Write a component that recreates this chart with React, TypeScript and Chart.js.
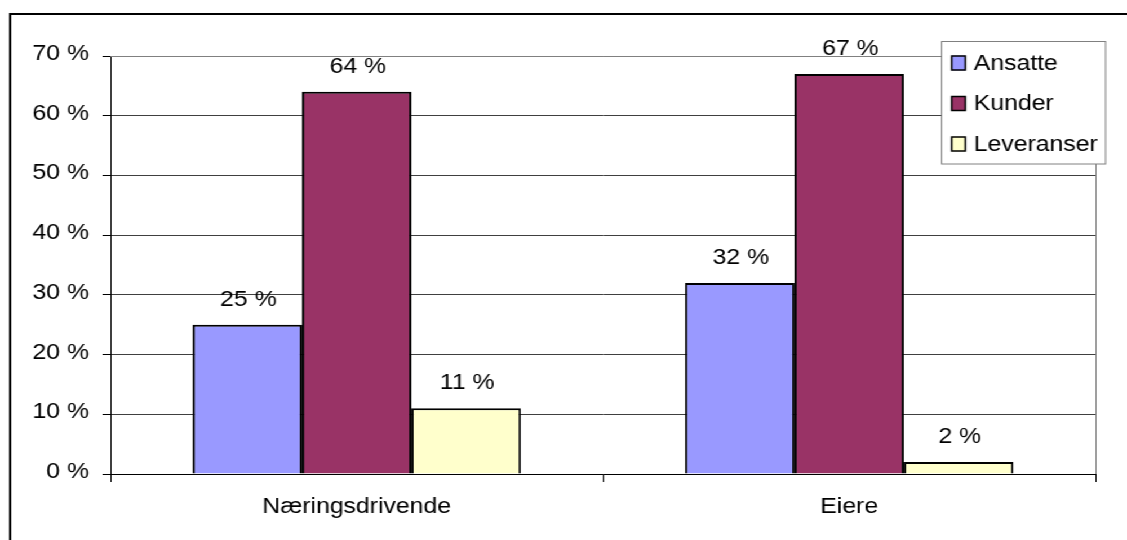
import React, { useEffect, useRef } from "react";
import { Chart, registerables } from "chart.js";

Chart.register(...registerables);

const categories = ["Næringsdrivende", "Eiere"];
const seriesNames = ["Ansatte", "Kunder", "Leveranser"];
const ansatte = [25, 32];
const kunder = [64, 67];
const leveranser = [11, 2];
const seriesColors = ["#9999FF", "#993366", "#FFFFCC"];
const yTicks = [0, 10, 20, 30, 40, 50, 60, 70];

const FONT_FAMILY = "'Liberation Sans', Arial, sans-serif";
const FONT_SIZE = 22;

// The chart is drawn on a 1000px-wide canvas and widened on screen.
const CANVAS_W = 1000;
const CANVAS_H = 540;
const STRETCH = 1127 / CANVAS_W;

// Outer frame, plot area border, value labels and the boxed legend
const decorPlugin = {
  id: "decor",
  beforeDraw(chart: any) {
    const ctx = chart.ctx;
    ctx.save();
    ctx.fillStyle = "#ffffff";
    ctx.fillRect(0, 0, chart.width, chart.height);
    ctx.fillStyle = "#000000";
    ctx.fillRect(8, 13, 2, chart.height - 13);
    ctx.fillRect(8, 13, chart.width - 8, 2);
    ctx.restore();
  },
  afterDatasetsDraw(chart: any) {
    const ctx = chart.ctx;
    const area = chart.chartArea;
    ctx.save();
    ctx.strokeStyle = "#808080";
    ctx.lineWidth = 1;
    ctx.beginPath();
    ctx.moveTo(area.left, Math.round(area.top) + 0.5);
    ctx.lineTo(Math.round(area.right) + 0.5, Math.round(area.top) + 0.5);
    ctx.lineTo(Math.round(area.right) + 0.5, area.bottom);
    ctx.stroke();

    ctx.font = `${FONT_SIZE}px ${FONT_FAMILY}`;
    ctx.fillStyle = "#000000";
    ctx.textAlign = "center";
    ctx.textBaseline = "alphabetic";
    chart.data.datasets.forEach((ds: any, di: number) => {
      const meta = chart.getDatasetMeta(di);
      meta.data.forEach((bar: any, i: number) => {
        const v = ds.data[i];
        ctx.fillText(`${v} %`, bar.x + 1, bar.y - 19);
      });
    });
    ctx.restore();
  },
  afterDraw(chart: any) {
    const ctx = chart.ctx;
    ctx.save();
    const bx = 835.5, by = 41.5, bw = 145.5, bh = 122.5;
    ctx.fillStyle = "#ffffff";
    ctx.fillRect(bx, by, bw, bh);
    ctx.strokeStyle = "#808080";
    ctx.lineWidth = 1;
    ctx.strokeRect(bx, by, bw, bh);
    ctx.font = `${FONT_SIZE}px ${FONT_FAMILY}`;
    ctx.textAlign = "left";
    ctx.textBaseline = "alphabetic";
    chart.data.datasets.forEach((ds: any, i: number) => {
      const cy = 61.5 + i * 40.5;
      ctx.fillStyle = ds.backgroundColor;
      ctx.fillRect(844, cy - 6, 13, 15);
      ctx.strokeStyle = "#000000";
      ctx.lineWidth = 1.5;
      ctx.strokeRect(844.5, cy - 5.5, 12, 14);
      ctx.fillStyle = "#000000";
      ctx.fillText(ds.label, 864, cy + 8);
    });
    ctx.restore();
  },
};

export default function App() {
  const canvasRef = useRef<HTMLCanvasElement | null>(null);

  useEffect(() => {
    if (!canvasRef.current) return;
    const values = [ansatte, kunder, leveranser];
    const chart = new Chart(canvasRef.current, {
      type: "bar",
      data: {
        labels: categories,
        datasets: seriesNames.map((name, i) => ({
          label: name,
          data: values[i],
          backgroundColor: seriesColors[i],
          borderColor: "#000000",
          borderWidth: 2,
          categoryPercentage: 2 / 3,
          barPercentage: 1,
        })),
      },
      options: {
        animation: false,
        responsive: false,
        devicePixelRatio: 1,
        layout: { padding: { left: 0, right: 28, top: 56, bottom: 0 } },
        plugins: {
          legend: { display: false },
          title: { display: false },
          tooltip: { enabled: false },
        },
        scales: {
          x: {
            offset: true,
            grid: {
              offset: true,
              drawOnChartArea: false,
              drawTicks: true,
              tickLength: 8,
              color: (c: any) => (c.index === categories.length ? "#808080" : "#000000"),
            },
            border: { color: "#000000", width: 1 },
            ticks: {
              color: "#000000",
              padding: 12,
              font: { family: FONT_FAMILY, size: FONT_SIZE },
            },
            afterFit: (scale: any) => {
              scale.height = 66;
            },
          },
          y: {
            min: 0,
            max: 70,
            afterBuildTicks: (scale: any) => {
              scale.ticks = yTicks.map((v) => ({ value: v }));
            },
            grid: {
              color: (c: any) => (c.tick && c.tick.value === 70 ? "#808080" : "#404040"),
              tickColor: "#000000",
              tickLength: 7,
            },
            border: { color: "#000000", width: 1 },
            ticks: {
              color: "#000000",
              padding: 12,
              labelOffset: -2,
              font: { family: FONT_FAMILY, size: FONT_SIZE },
              callback: (v: any) => `${v} %`,
            },
            afterFit: (scale: any) => {
              scale.width = 98;
            },
          },
        },
      },
      plugins: [decorPlugin],
    });
    return () => chart.destroy();
  }, []);

  return (
    <div
      style={{
        position: "fixed",
        left: 0,
        top: 0,
        width: CANVAS_W,
        height: CANVAS_H,
        background: "#fff",
        transform: `scaleX(${STRETCH})`,
        transformOrigin: "0 0",
      }}
    >
      <canvas
        ref={canvasRef}
        width={CANVAS_W}
        height={CANVAS_H}
        style={{ display: "block", width: CANVAS_W, height: CANVAS_H }}
      />
    </div>
  );
}
